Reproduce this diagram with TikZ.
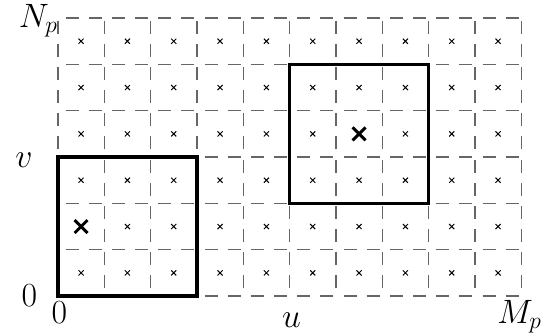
\documentclass[tikz,border=0pt]{standalone}
\begin{document}
\begin{tikzpicture}[x=1cm, y=1cm,
    gridline/.style={black!60, line width=0.8pt, dash pattern=on 0.28cm off 0.22cm, dash phase=0.335cm},
    frame/.style={line width=2.2pt},
    smallx/.style={line width=0.6pt},
    bigx/.style={line width=1.8pt},
    lab/.style={inner sep=0pt, font=\fontsize{19.5}{24}\selectfont}]
  \useasboundingbox (-1.25,-0.86) rectangle (10.47,6.39);

  % dashed pixel grid
  \foreach \y in {0,...,6}
    \draw[gridline] (0,\y) -- (10,\y);
  \foreach \x in {0,...,10}
    \draw[gridline] (\x,0) -- (\x,6);

  % pixel centres
  \foreach \i in {0,...,9} {
    \foreach \j in {0,...,5} {
      \draw[smallx] (\i+0.445,\j+0.445) -- (\i+0.555,\j+0.555)
                    (\i+0.445,\j+0.555) -- (\i+0.555,\j+0.445);
    }
  }

  % windows and their centres
  \draw[frame] (0,0) rectangle (3,3);
  \draw[frame] (5,2) rectangle (8,5);
  \foreach \cx/\cy in {0.5/1.5,6.5/3.5}
    \draw[bigx] (\cx-0.14,\cy-0.14) -- (\cx+0.14,\cy+0.14)
                (\cx-0.14,\cy+0.14) -- (\cx+0.14,\cy-0.14);

  \node[lab, anchor=base east] (Np) at (0,5.79) {$N_p$};
  \node[lab, anchor=base] (v) at (-0.73,2.77) {$v$};
  \node[lab, anchor=base] (zeroy) at (-0.615,-0.215) {$0$};
  \node[lab, anchor=base] (zerox) at (0.03,-0.60) {$0$};
  \node[lab, anchor=base] (u) at (5.04,-0.67) {$u$};
  \node[lab, anchor=base east] (Mp) at (10.45,-0.60) {$M_p$};
\end{tikzpicture}
\end{document}
